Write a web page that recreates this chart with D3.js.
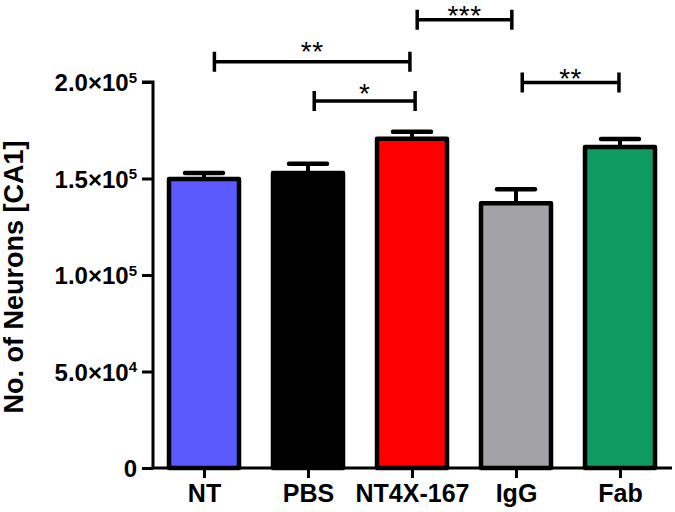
<!DOCTYPE html>
<html><head><meta charset="utf-8">
<script src="https://cdn.jsdelivr.net/npm/d3@7"></script>
<style>body{margin:0;background:#fff}svg{display:block}text{font-family:Arial,"Liberation Sans",sans-serif;font-weight:bold;fill:#000}</style>
</head><body>
<svg id="c" width="675" height="512"></svg>
<script>
const categories = ["NT","PBS","NT4X-167","IgG","Fab"];
const means = [149800, 152800, 170600, 137200, 166300];
const sems  = [3000, 4800, 3600, 7200, 4200];
const colors = ["#5a5aff","#000000","#ff0000","#a3a3a7","#109b63"];
const yTicks = [0, 50000, 100000, 150000, 200000];
const yTickMant = ["0","5.0","1.0","1.5","2.0"];
const yTickExp = ["","4","5","5","5"];
const brackets = [
  {from:0.1, to:1.98, y:210500, labelY:219200, label:"**"},
  {from:1.06, to:2.03, y:190200, labelY:197400, label:"*"},
  {from:2.05, to:2.96, y:232300, labelY:237800, label:"***"},
  {from:3.06, to:3.99, y:199800, labelY:205200, label:"**"}
];

const svg = d3.select("#c");
const y = d3.scaleLinear().domain([0,200000]).range([468,82]);
const x = d3.scalePoint().domain(categories).range([152,672]).padding(0.5);
const xi = d3.scaleLinear().domain([0,categories.length-1]).range([x(categories[0]), x(categories[categories.length-1])]);
const barW = 70;

// bars
svg.selectAll("rect.bar").data(categories).enter().append("rect")
  .attr("x", d=>x(d)-barW/2).attr("width", barW)
  .attr("y", (d,i)=>y(means[i])).attr("height",(d,i)=>y(0)-y(means[i]))
  .attr("fill",(d,i)=>colors[i]).attr("stroke","#000").attr("stroke-width",4.5)
  .attr("stroke-linejoin","round");

// error bars
const eb = svg.selectAll("g.eb").data(categories).enter().append("g");
eb.append("line").attr("x1",d=>x(d)).attr("x2",d=>x(d))
  .attr("y1",(d,i)=>y(means[i])).attr("y2",(d,i)=>y(means[i]+sems[i]))
  .attr("stroke","#000").attr("stroke-width",4);
eb.append("line").attr("x1",d=>x(d)-19).attr("x2",d=>x(d)+19)
  .attr("y1",(d,i)=>y(means[i]+sems[i])).attr("y2",(d,i)=>y(means[i]+sems[i]))
  .attr("stroke","#000").attr("stroke-width",4.5).attr("stroke-linecap","round");

// y axis
const yAxis = svg.append("g").attr("transform","translate(153,0)")
  .call(d3.axisLeft(y).tickValues(yTicks).tickSize(11).tickFormat(""));
yAxis.select(".domain").attr("stroke-width",3).attr("d","M-11,82H0V468");
yAxis.selectAll(".tick line").attr("stroke-width",3);
yAxis.selectAll(".tick").each(function(d,i){
  const t = d3.select(this).append("text").attr("x",-16).attr("dy","0.36em")
    .attr("text-anchor","end").style("font-size","24px").attr("fill","#000");
  t.append("tspan").text(yTickMant[i] + (yTickExp[i] ? "\u00d710" : ""));
  if (yTickExp[i]) t.append("tspan").attr("dy","-0.55em").style("font-size","15px").text(yTickExp[i]);
});

// x axis
const xAxis = svg.append("g").attr("transform","translate(0,468)")
  .call(d3.axisBottom(x).tickSize(10).tickSizeOuter(0).tickPadding(6));
xAxis.select(".domain").attr("stroke-width",3).attr("d","M151.5,0H672");
xAxis.selectAll(".tick line").attr("stroke-width",3);
xAxis.selectAll(".tick text").style("font-size","25px").attr("fill","#000")
  .attr("font-family","Arial, Liberation Sans, sans-serif").attr("font-weight","bold");

// y title
svg.append("text").attr("transform","translate(23,277) rotate(-90)")
  .attr("text-anchor","middle").style("font-size","27px").text("No. of Neurons [CA1]");

// significance brackets
const bg = svg.selectAll("g.br").data(brackets).enter().append("g");
bg.append("path").attr("fill","none").attr("stroke","#000").attr("stroke-width",3.5)
  .attr("d", d=>{const x1=xi(d.from), x2=xi(d.to), yy=y(d.y);
    return `M${x1},${yy-10}V${yy+10}M${x1},${yy}H${x2}M${x2},${yy-10}V${yy+10}`;});
bg.append("text").attr("x",d=>(xi(d.from)+xi(d.to))/2).attr("y",d=>y(d.labelY)+16)
  .attr("text-anchor","middle").style("font-size","28px").style("font-weight","normal")
  .style("letter-spacing","0.5px").text(d=>d.label);
</script>
</body></html>
